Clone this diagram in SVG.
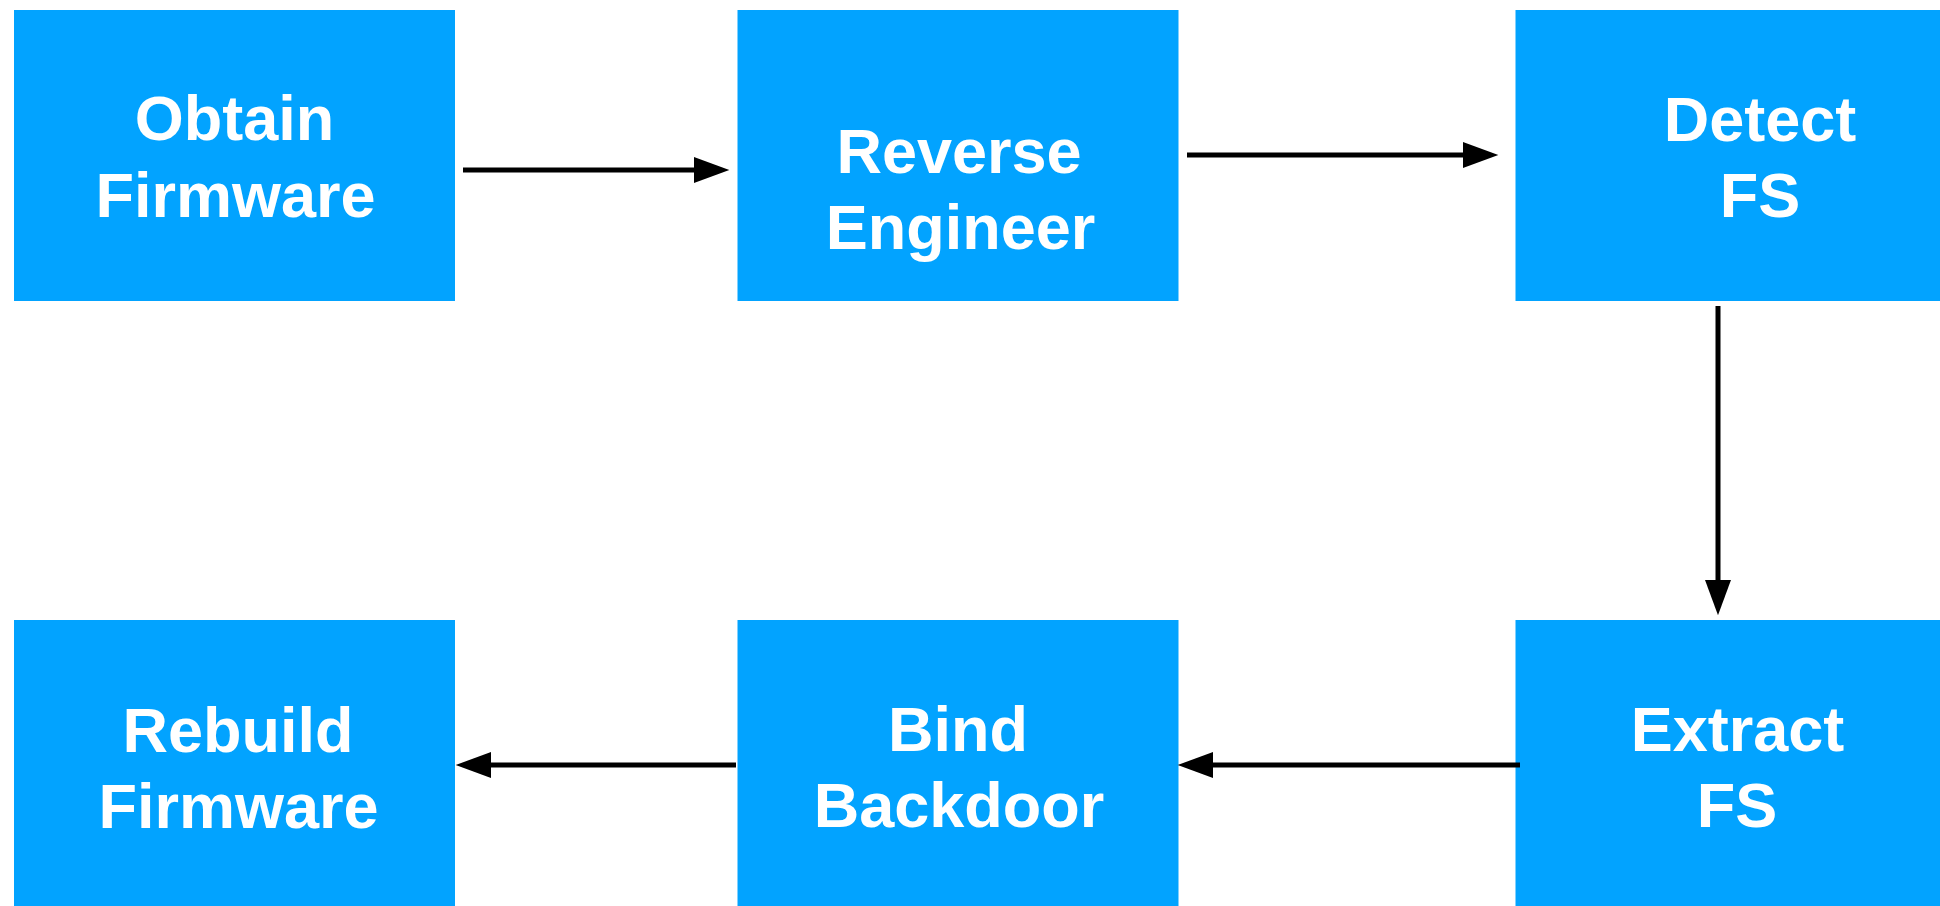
<svg xmlns="http://www.w3.org/2000/svg" width="1940" height="906" viewBox="0 0 1940 906">
<defs>
<style>
.box{fill:#02A3FF;}
.lbl{font-family:"Liberation Sans",Arial,Helvetica,sans-serif;font-weight:bold;font-size:63px;fill:#ffffff;text-anchor:middle;}
.con{stroke:#000;stroke-width:5;fill:none;}
</style>
<marker id="ah" markerUnits="userSpaceOnUse" markerWidth="36" markerHeight="26" viewBox="0 0 34 25" refX="1" refY="12.5" orient="auto">
<path d="M0,0 L34,12.5 L0,25 Z" fill="#000"/>
</marker>
</defs>
<rect width="1940" height="906" fill="#fff"/>
<g id="obtain-firmware">
<rect class="box" x="14" y="10" width="441" height="291"/>
<text class="lbl" x="234.5" y="140">Obtain</text>
<text class="lbl" x="235.5" y="216.5">Firmware</text>
</g>
<g id="reverse-engineer">
<rect class="box" x="737.5" y="10" width="441" height="291"/>
<text class="lbl" x="959" y="172.5">Reverse</text>
<text class="lbl" x="960.5" y="248.5">Engineer</text>
</g>
<g id="detect-fs">
<rect class="box" x="1515.5" y="10" width="441" height="291"/>
<text class="lbl" x="1760" y="141">Detect</text>
<text class="lbl" x="1760" y="216.5">FS</text>
</g>
<g id="extract-fs">
<rect class="box" x="1515.5" y="620" width="441" height="300"/>
<text class="lbl" x="1737.5" y="751">Extract</text>
<text class="lbl" x="1737" y="826.5">FS</text>
</g>
<g id="bind-backdoor">
<rect class="box" x="737.5" y="620" width="441" height="300"/>
<text class="lbl" x="958" y="751">Bind</text>
<text class="lbl" x="959" y="826.5">Backdoor</text>
</g>
<g id="rebuild-firmware">
<rect class="box" x="14" y="620" width="441" height="300"/>
<text class="lbl" x="238" y="751.5">Rebuild</text>
<text class="lbl" x="238.5" y="827.5">Firmware</text>
</g>
<g id="connectors">
<line class="con" x1="463" y1="170" x2="695" y2="170" marker-end="url(#ah)"/>
<line class="con" x1="1187" y1="155" x2="1464" y2="155" marker-end="url(#ah)"/>
<line class="con" x1="1718" y1="306" x2="1718" y2="581" marker-end="url(#ah)"/>
<line class="con" x1="1520" y1="765" x2="1212" y2="765" marker-end="url(#ah)"/>
<line class="con" x1="736" y1="765" x2="490" y2="765" marker-end="url(#ah)"/>
</g>
</svg>
